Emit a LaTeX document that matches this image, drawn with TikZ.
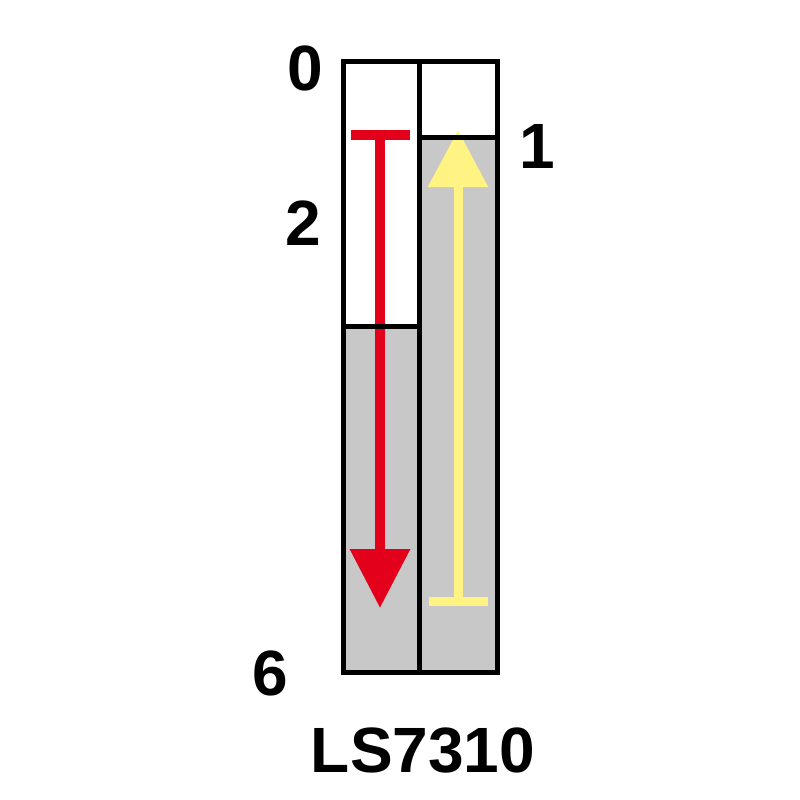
\documentclass[tikz,border=0pt]{standalone}
\usepackage{fontspec}
\setmainfont{Liberation Sans}
\usetikzlibrary{arrows.meta}
\definecolor{barg}{HTML}{C8C8C8}
\definecolor{ared}{HTML}{E2001A}
\definecolor{ayel}{HTML}{FFF383}
\begin{document}
\begin{tikzpicture}[x={(1pt,0)},y={(0,-1pt)},
  frame/.style={draw=black,line width=5pt},
  lbl/.style={font=\fontsize{64}{64}\selectfont\bfseries,inner sep=0pt},
  redarrow/.style={draw=ared,fill=ared,line width=10pt,arrows={Bar[width=59pt]-Triangle[width=58pt,length=59pt]}},
  yelarrow/.style={draw=ayel,fill=ayel,line width=9pt,arrows={Bar[width=59pt]-Triangle[width=58pt,length=57pt]}}]
\useasboundingbox (0,0) rectangle (800,800);
% fills
\fill[white] (343,62) rectangle (419,326);
\fill[barg] (343,326) rectangle (419,672);
\fill[white] (419,62) rectangle (497,137);
\fill[barg] (419,137) rectangle (497,672);
% arrows
\coordinate (rs) at (380,130);
\coordinate (re) at (380,608);
\draw[redarrow] (rs) -- (re);
\coordinate (ys) at (458,605.5);
\coordinate (ye) at (458,130);
\draw[yelarrow] (ys) -- (ye);
% frames
\draw[frame] (343,62) rectangle (419,672);
\draw[frame] (419,62) rectangle (497,672);
\draw[frame] (343,326) -- (419,326);
\draw[frame] (419,137) -- (497,137);
% labels
\node[lbl] (l0) at (305,68) {0};
\node[lbl] (l1) at (537,146) {1};
\node[lbl] (l2) at (303,223) {2};
\node[lbl] (l6) at (270,673) {6};
\node[lbl] (ls) at (423,751) {LS7310};
\end{tikzpicture}
\end{document}
